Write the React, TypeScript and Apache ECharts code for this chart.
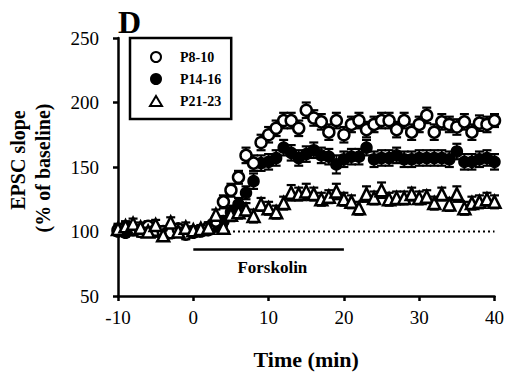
import React, { useEffect, useRef } from "react";
import * as echarts from "echarts";

const times: number[] = [];
for (let t = -10; t <= 40; t++) times.push(t);

const p8_10 = [
  101, 103, 102, 100, 104, 101, 100, 99, 102, 98,
  100, 101, 103, 108, 123, 132, 142, 159, 153, 169,
  175, 180, 186, 186, 180, 194, 188, 185, 177, 186,
  175, 183, 186, 179, 183, 186, 186, 179, 186, 177,
  183, 190, 177, 185, 183, 181, 185, 177, 184, 183, 186,
];
const p14_16 = [
  100, 99, 101, 100, 102, 100, 98, 101, 100, 99,
  99, 100, 101, 104, 108, 115, 121, 130, 139, 153,
  154, 157, 165, 161, 157, 160, 163, 159, 158, 152,
  156, 158, 158, 165, 156, 157, 157, 159, 156, 156,
  157, 157, 157, 157, 156, 162, 154, 154, 156, 157, 154,
];
const p21_23 = [
  102, 104, 106, 103, 100, 105, 97, 107, 100, 103,
  101, 102, 103, 113, 103, 113, 115, 117, 112, 121,
  118, 115, 122, 130, 129, 131, 129, 125, 127, 131,
  125, 123, 118, 129, 126, 132, 125, 126, 126, 129,
  126, 127, 122, 129, 121, 129, 118, 122, 123, 125, 123,
];
const errP8_10 = [
  4, 4, 3, 4, 4, 3, 4, 4, 3, 4,
  3, 3, 4, 4, 5, 5, 5, 6, 6, 6,
  6, 6, 6, 6, 6, 6, 6, 6, 6, 6,
  6, 6, 6, 6, 6, 6, 6, 6, 6, 6,
  6, 6, 6, 6, 6, 6, 6, 6, 6, 6, 5,
];
const errP14_16 = [
  3, 3, 4, 3, 3, 4, 3, 3, 4, 3,
  3, 3, 3, 4, 4, 5, 5, 5, 6, 6,
  6, 6, 6, 6, 6, 6, 6, 6, 6, 7,
  6, 6, 6, 6, 6, 6, 6, 6, 6, 6,
  6, 6, 6, 6, 6, 6, 6, 6, 6, 6, 6,
];
const errP21_23 = [
  4, 4, 4, 4, 3, 4, 4, 4, 3, 4,
  3, 3, 4, 4, 4, 5, 5, 5, 5, 5,
  5, 5, 5, 6, 5, 6, 5, 5, 5, 6,
  5, 5, 5, 6, 5, 6, 5, 5, 5, 5,
  5, 5, 5, 5, 5, 6, 5, 5, 5, 5, 5,
];

const seriesNames = ["P8-10", "P14-16", "P21-23"];
const forskolinStart = 0;
const forskolinEnd = 20;
const forskolinLevel = 86;
const baselineLevel = 100;
const xTicks = { min: -10, max: 40, interval: 10 };
const yTicks = { min: 50, max: 250, interval: 50 };

const FONT = "'Liberation Serif', 'Times New Roman', serif";

function errData(vals: number[], errs: number[]) {
  return vals.map((v, i) => [times[i], v - errs[i], v + errs[i]]);
}

function errSeries(vals: number[], errs: number[], z: number) {
  return {
    type: "custom",
    z,
    silent: true,
    data: errData(vals, errs),
    renderItem: (_p: any, api: any) => {
      const x = api.value(0);
      const lo = api.coord([x, api.value(1)]);
      const hi = api.coord([x, api.value(2)]);
      const w = 4.5;
      const st = { stroke: "#000", lineWidth: 1.8 };
      return {
        type: "group",
        children: [
          { type: "line", shape: { x1: lo[0], y1: lo[1], x2: hi[0], y2: hi[1] }, style: st },
          { type: "line", shape: { x1: hi[0] - w, y1: hi[1], x2: hi[0] + w, y2: hi[1] }, style: { stroke: "#000", lineWidth: 2.2 } },
          { type: "line", shape: { x1: lo[0] - w, y1: lo[1], x2: lo[0] + w, y2: lo[1] }, style: { stroke: "#000", lineWidth: 2.2 } },
        ],
      };
    },
  };
}

export default function App() {
  const ref = useRef<HTMLDivElement>(null);
  useEffect(() => {
    if (!ref.current) return;
    const chart = echarts.init(ref.current, undefined, { renderer: "svg" });
    const pts = (vals: number[]) => vals.map((v, i) => [times[i], v]);
    chart.setOption({
      animation: false,
      backgroundColor: "#fff",
      grid: { left: 118, right: 12, top: 38, bottom: 78 },
      xAxis: {
        type: "value",
        min: xTicks.min,
        max: xTicks.max,
        interval: xTicks.interval,
        splitLine: { show: false },
        axisLine: { onZero: false, lineStyle: { color: "#000", width: 2.5 } },
        axisTick: { show: true, length: 5, lineStyle: { color: "#000", width: 2.5 } },
        axisLabel: { color: "#000", fontSize: 19, fontFamily: FONT, margin: 12 },
        name: "Time (min)",
        nameLocation: "middle",
        nameGap: 52,
        nameTextStyle: { color: "#000", fontSize: 22, fontWeight: "bold", fontFamily: FONT },
      },
      yAxis: {
        type: "value",
        min: yTicks.min,
        max: yTicks.max,
        interval: yTicks.interval,
        splitLine: { show: false },
        axisLine: { show: true, onZero: false, lineStyle: { color: "#000", width: 2.5 } },
        axisTick: { show: true, length: 5, lineStyle: { color: "#000", width: 2.5 } },
        axisLabel: { color: "#000", fontSize: 19, fontFamily: FONT, margin: 19 },
      },
      legend: {
        orient: "vertical",
        left: 130,
        top: 38,
        itemWidth: 12,
        itemHeight: 10,
        itemGap: 8,
        symbolKeepAspect: true,
        padding: [12, 10, 11, 19],
        borderColor: "#000",
        borderWidth: 2.5,
        selectedMode: false,
        data: seriesNames,
        textStyle: {
          color: "#000",
          fontSize: 14,
          fontWeight: "bold",
          fontFamily: FONT,
          padding: [0, 0, 0, 13],
        },
      },
      graphic: [
        {
          type: "text",
          left: 118,
          top: 6,
          style: { text: "D", font: `bold 32px ${FONT}`, fill: "#000" },
        },
        {
          type: "text",
          x: 18,
          y: 160,
          rotation: Math.PI / 2,
          style: {
            text: "EPSC slope",
            font: `bold 20px ${FONT}`,
            fill: "#000",
            textAlign: "center",
            textVerticalAlign: "middle",
          },
        },
        {
          type: "text",
          x: 43,
          y: 168,
          rotation: Math.PI / 2,
          style: {
            text: "(% of baseline)",
            font: `bold 20px ${FONT}`,
            fill: "#000",
            textAlign: "center",
            textVerticalAlign: "middle",
          },
        },
      ],
      series: [
        {
          type: "line",
          silent: true,
          z: 1,
          symbol: "none",
          data: [[xTicks.min, baselineLevel], [xTicks.max, baselineLevel]],
          lineStyle: { color: "#000", width: 2, type: [2, 3] },
        },
        {
          type: "line",
          silent: true,
          z: 1,
          symbol: "none",
          data: [[forskolinStart, forskolinLevel], [forskolinEnd, forskolinLevel]],
          lineStyle: { color: "#000", width: 2.5 },
          markPoint: {
            symbol: "circle",
            symbolSize: 0,
            data: [{ coord: [(forskolinStart + forskolinEnd) / 2 + 0.5, forskolinLevel] }],
            label: {
              show: true,
              formatter: "Forskolin",
              position: "bottom",
              distance: 9,
              color: "#000",
              fontSize: 17,
              fontWeight: "bold",
              fontFamily: FONT,
            },
          },
        },
        errSeries(p14_16, errP14_16, 2),
        {
          name: seriesNames[1],
          type: "scatter",
          z: 3,
          symbol: "circle",
          symbolSize: 11,
          symbolKeepAspect: true,
          itemStyle: { color: "#000", borderColor: "#000", borderWidth: 1.5, opacity: 1 },
          data: pts(p14_16),
        },
        errSeries(p8_10, errP8_10, 4),
        {
          name: seriesNames[0],
          type: "scatter",
          z: 5,
          symbol: "circle",
          symbolSize: 11,
          symbolKeepAspect: true,
          itemStyle: { color: "#fff", borderColor: "#000", borderWidth: 2.5, opacity: 1 },
          data: pts(p8_10),
        },
        errSeries(p21_23, errP21_23, 6),
        {
          name: seriesNames[2],
          type: "scatter",
          z: 7,
          symbol: "triangle",
          symbolSize: 12,
          symbolKeepAspect: true,
          itemStyle: { color: "#fff", borderColor: "#000", borderWidth: 2.5, opacity: 1 },
          data: pts(p21_23),
        },
      ],
    });
    return () => chart.dispose();
  }, []);
  return <div ref={ref} style={{ width: 507, height: 375, position: "absolute", left: 0, top: 0 }} />;
}
